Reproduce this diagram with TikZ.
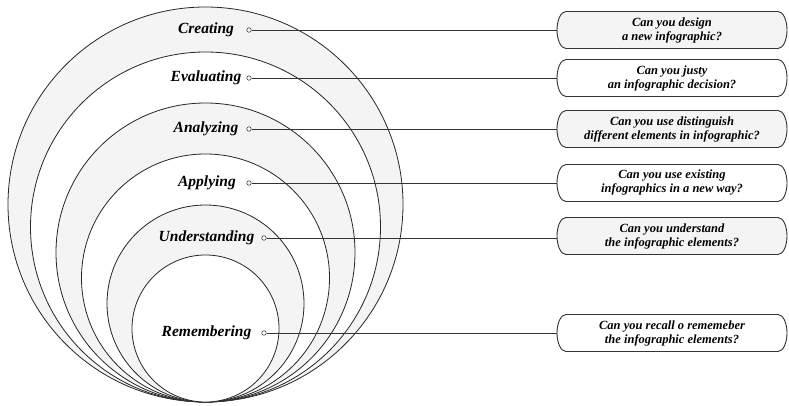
\documentclass[tikz,border=0pt]{standalone}
\usepackage{fontspec}
\setmainfont{Liberation Serif}
\usetikzlibrary{positioning}
\definecolor{shade}{HTML}{F4F4F4}

\begin{document}
\begin{tikzpicture}[x=1pt,y=-1pt,
    ring/.style={circle,draw=black!85,line width=0.8pt,inner sep=0pt},
    level/.style={font=\fontsize{15.5}{17}\selectfont\bfseries\itshape,inner sep=0pt},
    dot/.style={circle,draw=black!75,fill=white,inner sep=0pt,minimum size=4.5pt,line width=0.6pt},
    question/.style={fill=white,minimum width=232pt,minimum height=39pt,align=center,
      inner sep=0pt,outer sep=0pt,font=\fontsize{12.5}{14}\selectfont\bfseries\itshape,
      path picture={
        \path[fill=#1,draw=black!80,line width=0.9pt]
          ([shift={(10pt,-1pt)}]path picture bounding box.north west)
          -- ([shift={(-10pt,-1pt)}]path picture bounding box.north east)
          .. controls ([shift={(-5pt,-1pt)}]path picture bounding box.north east)
            and ([shift={(-1pt,10.2pt)}]path picture bounding box.east)
          .. ([xshift=-1pt]path picture bounding box.east)
          .. controls ([shift={(-1pt,-10.2pt)}]path picture bounding box.east)
            and ([shift={(-5pt,1pt)}]path picture bounding box.south east)
          .. ([shift={(-10pt,1pt)}]path picture bounding box.south east)
          -- ([shift={(10pt,1pt)}]path picture bounding box.south west)
          .. controls ([shift={(5pt,1pt)}]path picture bounding box.south west)
            and ([shift={(1pt,-10.2pt)}]path picture bounding box.west)
          .. ([xshift=1pt]path picture bounding box.west)
          .. controls ([shift={(1pt,10.2pt)}]path picture bounding box.west)
            and ([shift={(5pt,-1pt)}]path picture bounding box.north west)
          .. cycle;
      }},
    link/.style={draw=black!80,line width=0.9pt}]
  \useasboundingbox (0,0) rectangle (789,406);

  % nested circles, all touching at the bottom
  \node[ring,fill=shade,minimum size=395pt] (c_create) at (205.5,204.5) {};
  \node[ring,fill=white,minimum size=350pt] (c_eval) at (205.5,227) {};
  \node[ring,fill=shade,minimum size=299pt] (c_analyze) at (205.5,252.5) {};
  \node[ring,fill=white,minimum size=248pt] (c_apply) at (205.5,278) {};
  \node[ring,fill=shade,minimum size=197pt] (c_understand) at (205.5,303.5) {};
  \node[ring,fill=white,minimum size=147pt] (c_remember) at (205.5,328.5) {};

  % level names
  \node[level] (l_create) at (206,30) {Creating};
  \node[level] (l_eval) at (206,78) {Evaluating};
  \node[level] (l_analyze) at (206,129) {Analyzing};
  \node[level] (l_apply) at (207,183) {Applying};
  \node[level] (l_understand) at (206.5,238) {Understanding};
  \node[level] (l_remember) at (206.5,333) {Remembering};

  \node[dot] (d_create) at (249,30) {};
  \node[dot] (d_eval) at (249,78) {};
  \node[dot] (d_analyze) at (249,129) {};
  \node[dot] (d_apply) at (249,183) {};
  \node[dot] (d_understand) at (264,238) {};
  \node[dot] (d_remember) at (264,333) {};

  % questions
  \node[question=shade] (q_create) at (672,30) {Can you design\\a new infographic?};
  \node[question=white] (q_eval) [below=9pt of q_create] {Can you justy\\an infographic decision?};
  \node[question=shade] (q_analyze) at (672,129) {Can you use distinguish\\different elements in infographic?};
  \node[question=white] (q_apply) at (672,183) {Can you use existing\\infographics in a new way?};
  \node[question=shade] (q_understand) at (672,236) {Can you understand\\the infographic elements?};
  \node[question=white] (q_remember) at (672,333) {Can you recall o rememeber\\the infographic elements?};

  \path[link]
    (d_create) edge ([xshift=1pt]d_create -| q_create.west)
    (d_eval) edge ([xshift=1pt]d_eval -| q_eval.west)
    (d_analyze) edge ([xshift=1pt]d_analyze -| q_analyze.west)
    (d_apply) edge ([xshift=1pt]d_apply -| q_apply.west)
    (d_understand) edge ([xshift=1pt]d_understand -| q_understand.west)
    (d_remember) edge ([xshift=1pt]d_remember -| q_remember.west);
\end{tikzpicture}
\end{document}
